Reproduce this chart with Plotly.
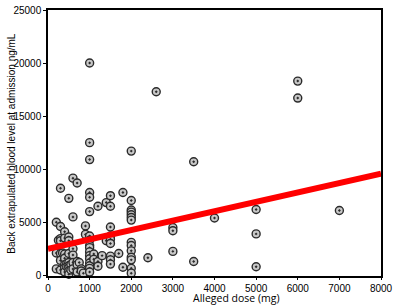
import plotly.graph_objects as go
import numpy as np

dose = [200, 200, 200, 250, 300, 300, 300, 300, 300, 300, 300, 350,
        400, 400, 400, 400, 400, 400, 400, 450, 450,
        500, 500, 500, 500, 500, 500, 500, 500, 500, 550, 550,
        600, 600, 600, 600, 600, 600, 700, 700, 700, 700, 750, 800, 800, 850,
        900, 900,
        1000, 1000, 1000, 1000, 1000, 1000, 1000, 1000, 1000, 1000, 1000, 1000,
        1000, 1000, 1000, 1000, 1000,
        1100, 1100, 1200, 1200, 1200, 1300, 1400, 1400,
        1500, 1500, 1500, 1500, 1500, 1500, 1500, 1500, 1500,
        1700, 1800, 1800,
        2000, 2000, 2000, 2000, 2000, 2000, 2000, 2000, 2000, 2000, 2000, 2000,
        2000, 2000,
        2400, 2600, 3000, 3000, 3000, 3500, 3500, 4000, 5000, 5000, 5000,
        6000, 6000, 7000]
level = [5000, 2100, 600, 3300, 8200, 4600, 3450, 3250, 2050, 1400, 500, 2100,
         4100, 3500, 2000, 1600, 1000, 700, 300, 1100, 800,
         7250, 3600, 3250, 2050, 1200, 900, 700, 400, 100, 1000, 500,
         9150, 5500, 2500, 1900, 1200, 600, 8700, 1300, 1000, 300, 1200, 600, 400, 200,
         4650, 3850,
         20000, 12500, 10900, 7800, 7350, 6000, 3700, 3300, 2800, 2600, 2200, 1850,
         1550, 1150, 900, 650, 300,
         2000, 1500, 6500, 1300, 850, 1850, 6850, 3250,
         7500, 6500, 4550, 3700, 3400, 3000, 1800, 1450, 1050,
         2050, 7800, 750,
         11700, 7050, 6150, 5950, 5700, 5450, 5200, 3100, 2800, 2300, 1700, 1450,
         650, 200,
         1650, 17300, 4500, 4200, 2250, 10700, 1300, 5400, 6200, 3900, 800,
         18300, 16700, 6100]

fit_intercept = 2480
fit_slope = 0.888
x_range = [0, 8000]
y_range = [-70, 25000]
y_ticks = [0, 5000, 10000, 15000, 20000, 25000]
x_ticks = [0, 1000, 2000, 3000, 4000, 5000, 6000, 7000, 8000]

fit_x = np.array(x_range, dtype=float)
fit_y = fit_intercept + fit_slope * fit_x

fig = go.Figure()
fig.add_trace(go.Scatter(
    x=dose, y=level, mode="markers",
    marker=dict(symbol="circle-dot", size=8, color="#c8c8c8",
                line=dict(color="#2a2a2a", width=1.4)),
    showlegend=False, cliponaxis=False))
fig.add_trace(go.Scatter(
    x=fit_x, y=fit_y, mode="lines",
    line=dict(color="#ff0000", width=6), showlegend=False))

fig.update_layout(
    width=397, height=307,
    margin=dict(l=48, r=11, t=4, b=31),
    paper_bgcolor="white", plot_bgcolor="white",
    font=dict(family="Liberation Sans, Arial, sans-serif", size=10, color="black"),
    xaxis=dict(range=x_range, tickvals=x_ticks, tickformat="d", showgrid=False,
               zeroline=False, ticklabeloverflow="allow",
               showline=True, linecolor="black", linewidth=1.5, mirror=True,
               ticks="outside", ticklen=2, tickcolor="black",
               tickfont=dict(family="Liberation Sans, Arial, sans-serif", size=10)),
    yaxis=dict(range=y_range, tickvals=y_ticks, tickformat="d", showgrid=False,
               zeroline=False, ticklabeloverflow="allow",
               showline=True, linecolor="black", linewidth=1.5, mirror=True,
               ticks="outside", ticklen=3, tickcolor="black"),
    annotations=[
        dict(text="Alleged dose (mg)", xref="paper", yref="paper",
             x=0.565, y=-0.1135, xanchor="center", yanchor="bottom",
             showarrow=False, borderpad=0,
             font=dict(family="Open Sans, sans-serif", size=10.5)),
        dict(text="Back extrapulated blood level at admission ng/mL",
             xref="paper", yref="paper", x=-0.112, y=0.5, textangle=-90,
             xanchor="center", yanchor="middle", showarrow=False,
             font=dict(size=10)),
    ],
)

fig.write_html("out.html", config={"displayModeBar": False},
               post_script="document.body.style.margin='0';document.body.style.padding='0';")
